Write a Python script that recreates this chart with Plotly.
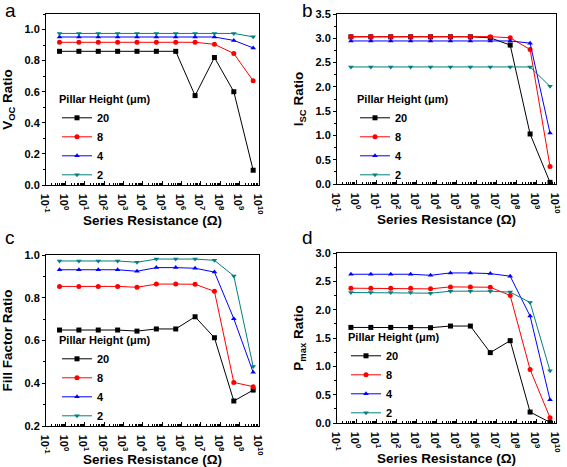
import plotly.graph_objects as go

# Series resistance (Ohm)
resistance = [0.5, 5, 50, 500, 5e3, 5e4, 5e5, 5e6, 5e7, 5e8, 5e9]
heights = ["20", "8", "4", "2"]

voc = {
    "20": [0.86, 0.86, 0.86, 0.86, 0.86, 0.86, 0.86, 0.575, 0.82, 0.60, 0.095],
    "8":  [0.918, 0.918, 0.918, 0.918, 0.918, 0.918, 0.918, 0.918, 0.905, 0.846, 0.67],
    "4":  [0.952, 0.952, 0.952, 0.952, 0.952, 0.952, 0.952, 0.952, 0.952, 0.93, 0.882],
    "2":  [0.975, 0.975, 0.975, 0.975, 0.975, 0.975, 0.975, 0.975, 0.975, 0.975, 0.953],
}
isc = {
    "20": [3.03, 3.03, 3.03, 3.03, 3.03, 3.03, 3.03, 3.01, 2.86, 1.03, 0.034],
    "8":  [3.034, 3.034, 3.034, 3.034, 3.034, 3.034, 3.034, 3.034, 3.01, 2.77, 0.36],
    "4":  [2.945, 2.945, 2.945, 2.945, 2.945, 2.945, 2.945, 2.945, 2.945, 2.90, 1.05],
    "2":  [2.41, 2.41, 2.41, 2.41, 2.41, 2.41, 2.41, 2.41, 2.41, 2.41, 2.01],
}
ff = {
    "20": [0.649, 0.649, 0.649, 0.649, 0.644, 0.654, 0.654, 0.711, 0.613, 0.317, 0.368],
    "8":  [0.853, 0.853, 0.853, 0.853, 0.849, 0.864, 0.864, 0.863, 0.83, 0.404, 0.384],
    "4":  [0.931, 0.931, 0.931, 0.931, 0.924, 0.941, 0.941, 0.938, 0.92, 0.702, 0.451],
    "2":  [0.972, 0.972, 0.972, 0.972, 0.966, 0.981, 0.981, 0.981, 0.975, 0.902, 0.478],
}
pmax = {
    "20": [1.687, 1.687, 1.687, 1.687, 1.682, 1.711, 1.711, 1.242, 1.453, 0.193, 0.012],
    "8":  [2.379, 2.379, 2.379, 2.379, 2.367, 2.402, 2.402, 2.396, 2.25, 0.943, 0.094],
    "4":  [2.625, 2.625, 2.625, 2.625, 2.607, 2.648, 2.648, 2.637, 2.59, 1.887, 0.41],
    "2":  [2.303, 2.303, 2.303, 2.303, 2.291, 2.326, 2.326, 2.326, 2.31, 2.127, 0.92],
}

xtick_vals = [1e-1, 1e0, 1e1, 1e2, 1e3, 1e4, 1e5, 1e6, 1e7, 1e8, 1e9, 1e10]
xtick_text = ["10<sup>%d</sup>" % e for e in range(-1, 11)]

colors = {"20": "#000000", "8": "#ff0000", "4": "#0000ff", "2": "#008080"}
symbols = {"20": "square", "8": "circle", "4": "triangle-up", "2": "triangle-down"}

W, H = 567, 467
def dx(a, b):
    return [a / W, b / W]
def dy(top, bot):
    return [1 - bot / H, 1 - top / H]

panels = [
    # data, ytitle, yrange, dtick, minor, xdom, ydom, letter, letter pos, legend pos (left x, bottom y), title standoff
    (voc, "V<sub>OC</sub> Ratio", [0, 1.1], 0.2, 0.1, dx(46, 259), dy(14, 185), "a", (10, 10), (57, 190), 10),
    (isc, "I<sub>SC</sub> Ratio", [0, 3.5], 0.5, 0.25, dx(337, 556), dy(14, 184), "b", (307, 10), (355, 190), 8),
    (ff, "Fill Factor Ratio", [0.2, 1.0], 0.2, 0.1, dx(46, 259), dy(255, 426), "c", (10, 238), (57, 431), 10),
    (pmax, "P<sub>max</sub> Ratio", [0, 3.0], 0.5, 0.25, dx(337, 556), dy(253, 423), "d", (307, 238), (346, 428), 8),
]

fig = go.Figure()
annotations = []
layout = {}
for i, (data, ytitle, yr, dt, mdt, xd, yd, letter, lpos, legpos, ystand) in enumerate(panels):
    n = "" if i == 0 else str(i + 1)
    legname = "legend" + n
    for h in heights:
        fig.add_trace(go.Scatter(
            x=resistance, y=data[h], name=h, mode="lines+markers",
            line=dict(color=colors[h], width=1),
            marker=dict(symbol=symbols[h], size=5, color=colors[h]),
            xaxis="x" + n, yaxis="y" + n, legend=legname,
            showlegend=True,
        ))
    layout["xaxis" + n] = dict(
        type="log", range=[-1, 10], domain=xd, anchor="y" + n,
        tickmode="array", tickvals=xtick_vals, ticktext=xtick_text,
        ticks="inside", ticklen=4, tickwidth=1, tickcolor="black",
        minor=dict(ticks="inside", ticklen=2, dtick="D1", tickcolor="black"),
        showline=True, linecolor="black", linewidth=1, mirror=True,
        showgrid=False, zeroline=False,
        tickfont=dict(size=11, weight="bold"),
        title=dict(text="Series Resistance (\u03a9)", font=dict(size=13.5, weight="bold"), standoff=2),
    )
    layout["yaxis" + n] = dict(
        range=yr, domain=yd, anchor="x" + n, dtick=dt, tick0=0,
        ticks="outside", ticklen=3, tickwidth=1, tickcolor="black",
        minor=dict(ticks="outside", ticklen=2, dtick=mdt, tickcolor="black"),
        tickformat=".1f",
        showline=True, linecolor="black", linewidth=1, mirror=True,
        showgrid=False, zeroline=False,
        tickfont=dict(size=11, weight="bold"),
        title=dict(text=ytitle, font=dict(size=13.5, weight="bold"), standoff=ystand),
    )
    layout[legname] = dict(
        x=legpos[0] / W, y=1 - legpos[1] / H, xanchor="left", yanchor="bottom",
        bgcolor="rgba(0,0,0,0)", borderwidth=0,
        title=dict(text="Pillar Height (\u03bcm)", font=dict(size=11, weight="bold")),
        font=dict(size=11, weight="bold"), itemwidth=30, tracegroupgap=0,
        maxheight=300, itemclick=False,
    )
    annotations.append(dict(
        text=letter, x=lpos[0] / W, y=1 - lpos[1] / H, xref="paper", yref="paper",
        showarrow=False, font=dict(size=19, color="black"), xanchor="center", yanchor="middle",
    ))

fig.update_layout(
    width=W, height=H, margin=dict(l=0, r=0, t=0, b=0, autoexpand=False),
    paper_bgcolor="white", plot_bgcolor="white",
    font=dict(family="Liberation Sans, Arial, sans-serif", color="black"),
    annotations=annotations, **layout,
)

fig.write_html(
    "out.html",
    config={"displayModeBar": False},
    post_script="document.body.style.margin='0';document.body.style.overflow='hidden';",
)
